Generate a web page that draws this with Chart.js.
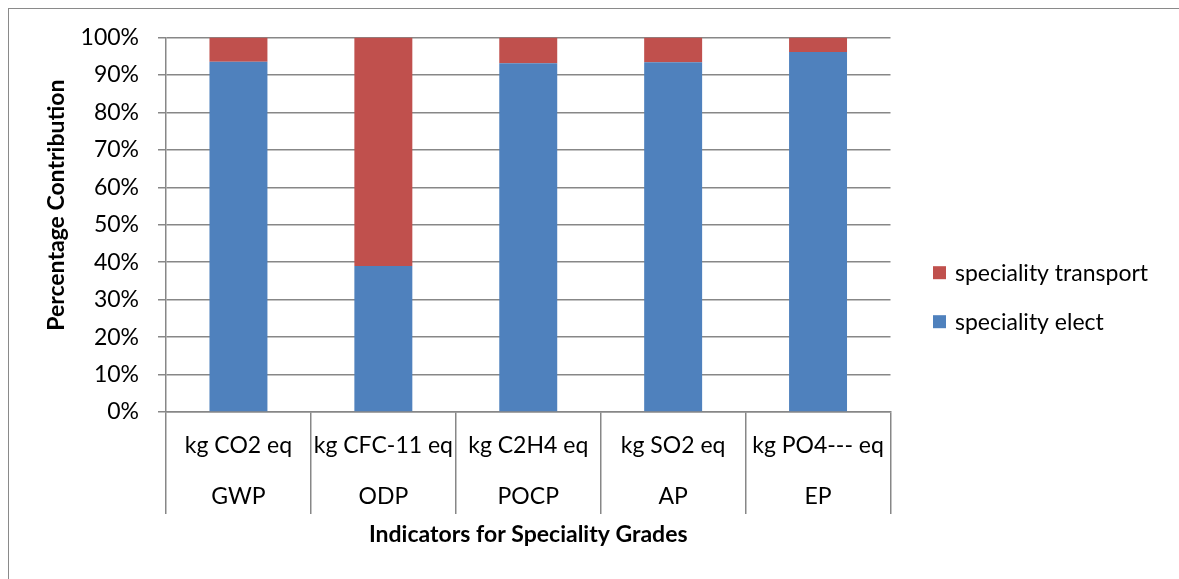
<!DOCTYPE html>
<html>
<head>
<meta charset="utf-8">
<script src="https://cdn.jsdelivr.net/npm/chart.js@4"></script>
<style>
  html, body { margin: 0; padding: 0; background: #fff; overflow: hidden; }
  #frame { position: absolute; left: 8px; top: 8px; width: 1300px; height: 700px;
           border: 1.5px solid #8a8a8a; box-sizing: border-box; }
  #chart { position: absolute; left: 0; top: 0; }
</style>
</head>
<body>
<div id="frame"></div>
<canvas id="chart" width="1179" height="579"></canvas>
<script>
// Impact categories: unit row and indicator row
const units = ['kg CO2 eq', 'kg CFC-11 eq', 'kg C2H4 eq', 'kg SO2 eq', 'kg PO4--- eq'];
const indicators = ['GWP', 'ODP', 'POCP', 'AP', 'EP'];

// Share of each indicator (%)
const specialityElect = [93.5, 39.0, 93.1, 93.4, 96.1];
const specialityTransport = [6.5, 61.0, 6.9, 6.6, 3.9];

const seriesNames = ['speciality elect', 'speciality transport'];
const yTicks = [0, 10, 20, 30, 40, 50, 60, 70, 80, 90, 100];

const FONT = 'Lato';
const SIZE = 23;
const GRID = '#878787';

// Side legend: stacked order (top series first), square swatches
const sideLegend = {
  id: 'sideLegend',
  afterDraw(chart, args, opts) {
    const ctx = chart.ctx;
    const items = chart.data.datasets.map(d => ({ text: d.label, color: d.backgroundColor })).reverse();
    ctx.save();
    ctx.font = SIZE + 'px ' + FONT;
    ctx.textBaseline = 'middle';
    ctx.textAlign = 'left';
    items.forEach((it, i) => {
      const cy = opts.top + i * opts.spacing;
      ctx.fillStyle = it.color;
      ctx.fillRect(opts.left, cy - opts.box / 2, opts.box, opts.box);
      ctx.fillStyle = '#000';
      ctx.fillText(it.text, opts.left + opts.box + opts.gap, cy + 1);
    });
    ctx.restore();
  }
};

Chart.defaults.font.family = FONT;
Chart.defaults.font.size = SIZE;
Chart.defaults.color = '#000';

new Chart(document.getElementById('chart'), {
  type: 'bar',
  data: {
    labels: units.map((u, i) => [u, indicators[i]]),
    datasets: [
      { label: seriesNames[0], data: specialityElect, backgroundColor: '#4f81bd',
        borderWidth: 0, barPercentage: 0.4, categoryPercentage: 1 },
      { label: seriesNames[1], data: specialityTransport, backgroundColor: '#c0504d',
        borderWidth: 0, barPercentage: 0.4, categoryPercentage: 1 }
    ]
  },
  plugins: [sideLegend],
  options: {
    responsive: false,
    animation: false,
    devicePixelRatio: 1,
    layout: { padding: { top: 37.5, right: 288.5, bottom: 0, left: 0 } },
    plugins: {
      tooltip: { enabled: false },
      legend: { display: false },
      sideLegend: { left: 933, top: 272.7, spacing: 49, box: 13, gap: 9 }
    },
    scales: {
      x: {
        stacked: true,
        offset: true,
        grid: { offset: true, drawOnChartArea: false, tickLength: 102, color: GRID, lineWidth: 1.5 },
        border: { display: true, color: GRID, width: 1.5 },
        ticks: { padding: -93.5, maxRotation: 0, autoSkip: false,
                 font: { family: FONT, size: SIZE, lineHeight: 51 / SIZE }, color: '#000' },
        title: { display: true, text: 'Indicators for Speciality Grades',
                 font: { family: FONT, size: SIZE, weight: 'bold' }, color: '#000',
                 padding: { top: 0, bottom: 30.2 } },
        afterFit: s => { s.height = 579 - 412; }
      },
      y: {
        stacked: true,
        min: 0, max: 100,
        afterBuildTicks: s => { s.ticks = yTicks.map(v => ({ value: v })); },
        ticks: { padding: 19, callback: v => v + '%', color: '#000' },
        grid: { color: GRID, lineWidth: 1.5, tickLength: 8 },
        border: { display: true, color: GRID, width: 1.5 },
        title: { display: true, text: '       Percentage Contribution',
                 font: { family: FONT, size: SIZE, weight: 'bold' }, color: '#000',
                 padding: { top: 43.2, bottom: 0 } },
        afterFit: s => { s.width = 166; }
      }
    }
  }
});
</script>
</body>
</html>
